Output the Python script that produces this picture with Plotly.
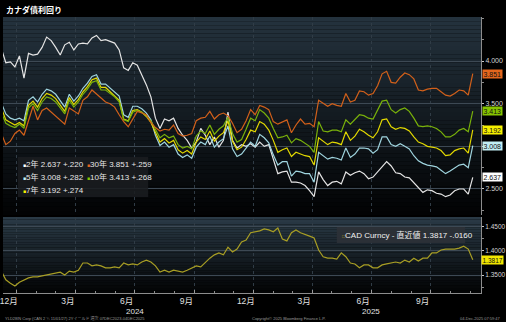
import plotly.graph_objects as go
import pandas as pd

# ---- data (weekly closes) ----
week_end = pd.date_range("2023-12-08", periods=105, freq="7D")

yld_2y = [
    4.15, 3.98, 3.99, 3.93, 4.06, 3.80, 4.09, 4.07, 4.08, 4.16,
    4.28, 4.24, 4.16, 4.07, 4.19, 4.22, 4.13, 4.20, 4.21, 4.20,
    4.27, 4.30, 4.24, 4.25, 4.23, 4.21, 4.13, 3.92, 3.89, 3.98,
    3.95, 3.84, 3.72, 3.58, 3.33, 3.21, 3.32, 3.30, 3.33, 3.21,
    3.13, 3.07, 2.98, 3.05, 3.21, 3.13, 3.02, 3.11, 2.99, 3.07,
    3.40, 3.07, 2.98, 3.02, 3.00, 3.03, 2.99, 3.05, 3.00, 3.02,
    2.84, 2.68, 2.70, 2.71, 2.58, 2.58, 2.57, 2.54, 2.48, 2.41,
    2.70, 2.61, 2.54, 2.58, 2.59, 2.56, 2.70, 2.66, 2.69, 2.71,
    2.68, 2.62, 2.64, 2.70, 2.77, 2.82, 2.77, 2.69, 2.68, 2.64,
    2.63, 2.57, 2.52, 2.46, 2.49, 2.48, 2.45, 2.44, 2.41, 2.43,
    2.48, 2.50, 2.50, 2.44, 2.637,
]
yld_5y = [
    3.51, 3.38, 3.33, 3.31, 3.33, 3.30, 3.54, 3.58, 3.52, 3.61,
    3.67, 3.65, 3.61, 3.54, 3.46, 3.61, 3.53, 3.59, 3.68, 3.74,
    3.82, 3.84, 3.73, 3.73, 3.68, 3.64, 3.59, 3.37, 3.34, 3.47,
    3.47, 3.44, 3.39, 3.31, 3.13, 3.01, 3.05, 2.99, 3.02, 2.91,
    2.87, 2.90, 2.86, 2.99, 3.05, 3.02, 3.12, 2.99, 3.05, 3.09,
    3.24, 2.97, 2.88, 2.91, 2.98, 3.05, 3.00, 3.14, 3.10, 3.04,
    2.90, 2.78, 2.82, 2.82, 2.65, 2.71, 2.70, 2.68, 2.68, 2.58,
    2.93, 2.89, 2.85, 2.87, 2.86, 2.84, 2.98, 2.87, 2.91, 2.98,
    2.98, 2.97, 2.92, 2.96, 3.11, 3.11, 3.02, 3.00, 3.03, 3.00,
    2.97, 2.89, 2.83, 2.80, 2.78, 2.77, 2.76, 2.72, 2.68, 2.71,
    2.75, 2.78, 2.79, 2.75, 3.008,
]
yld_7y = [
    3.45, 3.31, 3.28, 3.25, 3.28, 3.24, 3.48, 3.53, 3.46, 3.56,
    3.62, 3.60, 3.56, 3.49, 3.41, 3.57, 3.49, 3.55, 3.64, 3.70,
    3.78, 3.80, 3.69, 3.69, 3.64, 3.60, 3.54, 3.32, 3.30, 3.42,
    3.43, 3.40, 3.35, 3.28, 3.16, 3.05, 3.09, 3.04, 3.07, 2.96,
    2.92, 2.95, 2.91, 3.05, 3.11, 3.08, 3.18, 3.06, 3.12, 3.16,
    3.30, 3.06, 2.96, 2.99, 3.08, 3.19, 3.17, 3.29, 3.26, 3.19,
    3.07, 2.93, 2.96, 2.98, 2.88, 2.93, 2.91, 2.89, 2.88, 2.78,
    3.10, 3.06, 3.02, 3.05, 3.04, 3.02, 3.17, 3.07, 3.12, 3.20,
    3.17, 3.13, 3.10, 3.17, 3.31, 3.32, 3.23, 3.20, 3.22, 3.21,
    3.18, 3.11, 3.05, 3.03, 3.00, 2.99, 2.98, 2.95, 2.89, 2.90,
    2.95, 2.97, 2.98, 2.92, 3.192,
]
yld_10y = [
    3.40, 3.27, 3.24, 3.22, 3.26, 3.21, 3.45, 3.50, 3.42, 3.52,
    3.58, 3.56, 3.52, 3.45, 3.38, 3.54, 3.46, 3.52, 3.61, 3.67,
    3.75, 3.77, 3.66, 3.66, 3.62, 3.58, 3.52, 3.31, 3.29, 3.40,
    3.42, 3.40, 3.36, 3.30, 3.20, 3.10, 3.14, 3.10, 3.12, 3.02,
    2.98, 3.00, 2.97, 3.12, 3.18, 3.15, 3.25, 3.14, 3.20, 3.24,
    3.34, 3.15, 3.05, 3.08, 3.20, 3.33, 3.30, 3.43, 3.39, 3.33,
    3.21, 3.10, 3.11, 3.13, 3.04, 3.09, 3.07, 3.03, 3.00, 2.93,
    3.29, 3.18, 3.17, 3.19, 3.19, 3.17, 3.31, 3.26, 3.31, 3.37,
    3.36, 3.33, 3.32, 3.43, 3.53, 3.54, 3.43, 3.39, 3.43, 3.45,
    3.41, 3.33, 3.24, 3.23, 3.24, 3.23, 3.21, 3.17, 3.11, 3.11,
    3.14, 3.19, 3.21, 3.17, 3.413,
]
yld_30y = [
    3.15, 3.02, 3.06, 3.15, 3.19, 3.13, 3.30, 3.47, 3.31, 3.42,
    3.45, 3.40, 3.35, 3.30, 3.26, 3.45, 3.41, 3.38, 3.54, 3.58,
    3.66, 3.61, 3.56, 3.52, 3.50, 3.46, 3.37, 3.29, 3.23, 3.32,
    3.41, 3.39, 3.37, 3.28, 3.22, 3.18, 3.20, 3.19, 3.25, 3.15,
    3.12, 3.13, 3.15, 3.30, 3.33, 3.34, 3.41, 3.32, 3.37, 3.39,
    3.36, 3.27, 3.16, 3.20, 3.30, 3.43, 3.37, 3.48, 3.46, 3.43,
    3.29, 3.26, 3.29, 3.31, 3.16, 3.25, 3.32, 3.26, 3.27, 3.23,
    3.54, 3.50, 3.47, 3.50, 3.48, 3.47, 3.62, 3.52, 3.54, 3.65,
    3.64, 3.60, 3.62, 3.71, 3.85, 3.88, 3.75, 3.74, 3.81, 3.86,
    3.84, 3.79, 3.66, 3.65, 3.67, 3.68, 3.68, 3.64, 3.60, 3.59,
    3.62, 3.66, 3.65, 3.60, 3.851,
]
usdcad = [
    1.358, 1.340, 1.333, 1.327, 1.335, 1.340, 1.344, 1.346, 1.346, 1.348,
    1.350, 1.352, 1.354, 1.356, 1.350, 1.358, 1.356, 1.360, 1.375, 1.375,
    1.369, 1.371, 1.369, 1.365, 1.365, 1.367, 1.365, 1.375, 1.371, 1.373,
    1.371, 1.377, 1.381, 1.377, 1.369, 1.356, 1.360, 1.356, 1.360, 1.358,
    1.356, 1.360, 1.365, 1.369, 1.367, 1.377, 1.385, 1.392, 1.396, 1.392,
    1.408, 1.398, 1.404, 1.419, 1.423, 1.438, 1.440, 1.442, 1.446, 1.444,
    1.440, 1.448, 1.425, 1.421, 1.438, 1.444, 1.438, 1.435, 1.431, 1.427,
    1.402, 1.388, 1.385, 1.385, 1.383, 1.396, 1.388, 1.375, 1.373, 1.365,
    1.371, 1.371, 1.365, 1.365, 1.371, 1.373, 1.375, 1.377, 1.375, 1.381,
    1.377, 1.385, 1.379, 1.385, 1.385, 1.396, 1.396, 1.402, 1.404, 1.404,
    1.404, 1.406, 1.410, 1.404, 1.3817,
]

tenor_labels = ["2年", "5年", "7年", "10年", "30年"]
tenor_values = [yld_2y, yld_5y, yld_7y, yld_10y, yld_30y]
tenor_change = ["+.220", "+.282", "+.274", "+.268", "+.259"]
cad_change = "-.0160"

month_ticks = ["2024-01-01", "2024-04-01", "2024-07-01", "2024-10-01",
               "2025-01-01", "2025-04-01", "2025-07-01", "2025-10-01"]
month_text = ["12月", "3月", "6月", "9月", "12月", "3月", "6月", "9月"]
year_marks = ["2024-07-01", "2025-07-01"]
year_text = ["2024", "2025"]

yld_ticks = [2.5, 3.0, 3.5, 4.0]
yld_tick_text = ["2.500", "", "3.500", "4.000"]   # 3.000 sits under the 5年 tag
cad_ticks = [1.35, 1.40, 1.45]

# ---- styling ----
line_col = {"2年": "#e4e4e4", "5年": "#9fd4de", "7年": "#e2d800",
            "10年": "#79b10a", "30年": "#d2601a"}
tag_col = {"2年": "#ffffff", "5年": "#c2eef4", "7年": "#f7f000",
           "10年": "#86c400", "30年": "#e3661d"}
cad_line = "#a89e24"
cad_tag = "#f2e600"

SANS = "Liberation Sans, Arial, Noto Sans CJK JP, sans-serif"
CJK = "Noto Sans CJK JP, sans-serif"

W, H = 506, 322
ML, MR, MT, MB = 0, 22, 17, 29
PW, PH = W - ML - MR, H - MT - MB


def pyp(p):
    """pixel row -> paper y"""
    return (H - MB - p) / PH


def pxp(p):
    """pixel column -> paper x"""
    return (p - ML) / PW


x_range = ["2023-12-10 15:00", "2025-12-17 17:00"]

fig = go.Figure()

for name, vals in zip(tenor_labels, tenor_values):
    fig.add_trace(go.Scatter(
        x=week_end, y=vals, mode="lines", name=name,
        line=dict(color=line_col[name], width=1.2),
        xaxis="x", yaxis="y", hoverinfo="skip", showlegend=False,
    ))

fig.add_trace(go.Scatter(
    x=week_end, y=usdcad, mode="lines", name="CAD Curncy",
    line=dict(color=cad_line, width=1.2),
    xaxis="x2", yaxis="y2", hoverinfo="skip", showlegend=False,
))

shapes = []


def gradient(xref, yref, top, bottom, n=48):
    for k in range(n):
        t = k / (n - 1)
        c = tuple(round(top[j] + (bottom[j] - top[j]) * t) for j in range(3))
        shapes.append(dict(
            type="rect", xref=xref, yref=yref,
            x0=0, x1=1, y0=1 - (k + 1) / n, y1=1 - k / n,
            fillcolor="rgb(%d,%d,%d)" % c, line=dict(width=0), layer="below",
        ))


gradient("x domain", "y domain", (36, 50, 61), (2, 3, 4))
gradient("x2 domain", "y2 domain", (42, 58, 70), (3, 4, 5), n=30)

# legend panel and CAD caption panel
shapes.append(dict(type="rect", xref="paper", yref="paper",
                   x0=pxp(15), x1=pxp(147), y0=pyp(197), y1=pyp(157),
                   fillcolor="rgba(26,29,32,0.88)", line=dict(width=0), layer="above"))
shapes.append(dict(type="rect", xref="paper", yref="paper",
                   x0=pxp(338), x1=pxp(468), y0=pyp(243), y1=pyp(227),
                   fillcolor="rgba(44,49,55,0.92)", line=dict(width=0), layer="above"))

annotations = []

# title
annotations.append(dict(
    text="<b>カナダ債利回り</b>", x=pxp(1), y=pyp(9), xref="paper", yref="paper",
    xanchor="left", yanchor="middle", showarrow=False,
    font=dict(family=CJK, size=8, color="#ffffff"),
))

# legend entries
legend_pos = {"2年": (18, 164), "30年": (83, 164), "5年": (18, 177),
              "10年": (83, 177), "7年": (18, 190)}
for name, vals, chg in zip(tenor_labels, tenor_values, tenor_change):
    lx, ly = legend_pos[name]
    annotations.append(dict(
        text="<span style='color:%s;font-size:5px'>■</span>%s %.3f %s"
             % (tag_col[name], name, vals[-1], chg),
        x=pxp(lx), y=pyp(ly), xref="paper", yref="paper",
        xanchor="left", yanchor="middle", showarrow=False,
        font=dict(family=SANS, size=8, color="#e6e6e6"),
    ))

# last-value tags on the right axis
for name, vals in zip(tenor_labels, tenor_values):
    annotations.append(dict(
        text="%.3f" % vals[-1], x=1, y=vals[-1], xref="paper", yref="y",
        xanchor="left", yanchor="middle", xshift=1, showarrow=False,
        bgcolor=tag_col[name], borderpad=0.5,
        font=dict(family=SANS, size=7, color="#111111"),
    ))
annotations.append(dict(
    text="%.4f" % usdcad[-1], x=1, y=usdcad[-1], xref="paper", yref="y2",
    xanchor="left", yanchor="middle", xshift=0, showarrow=False,
    bgcolor=cad_tag, borderpad=0.5,
    font=dict(family=SANS, size=6.5, color="#111111"),
))

# CAD caption
annotations.append(dict(
    text="<span style='color:%s;font-size:5px'>□</span>CAD Curncy - 直近値 %.4f %s"
         % (cad_line, usdcad[-1], cad_change),
    x=pxp(341), y=pyp(235), xref="paper", yref="paper",
    xanchor="left", yanchor="middle", showarrow=False,
    font=dict(family=SANS, size=8, color="#f0f0f0"),
))

# year labels under the month ticks
for d, t in zip(year_marks, year_text):
    annotations.append(dict(
        text=t, x=d, y=pyp(311), xref="x2", yref="paper",
        xanchor="center", yanchor="middle", showarrow=False,
        font=dict(family=SANS, size=8, color="#e0e0e0"),
    ))

# footer
annotations.append(dict(
    text="YLD28IN Corp (CAN 2 ¾ 11/01/27) 2Yイールド 週次 07DEC2023-04DEC2025",
    x=pxp(0), y=pyp(318), xref="paper", yref="paper", xanchor="left",
    yanchor="middle", showarrow=False, font=dict(family=SANS, size=4, color="#9a9a9a"),
))
annotations.append(dict(
    text="Copyright© 2025 Bloomberg Finance L.P.",
    x=pxp(290), y=pyp(318), xref="paper", yref="paper", xanchor="center",
    yanchor="middle", showarrow=False, font=dict(family=SANS, size=4, color="#9a9a9a"),
))
annotations.append(dict(
    text="04-Dec-2025 07:59:47",
    x=pxp(506), y=pyp(318), xref="paper", yref="paper", xanchor="right",
    yanchor="middle", showarrow=False, font=dict(family=SANS, size=4, color="#9a9a9a"),
))

grid_v = dict(showgrid=True, gridcolor="#303c46", griddash="dot", gridwidth=1)

fig.update_layout(
    width=W, height=H,
    margin=dict(l=ML, r=MR, t=MT, b=MB),
    paper_bgcolor="#000000", plot_bgcolor="rgba(0,0,0,0)",
    shapes=shapes, annotations=annotations,
    xaxis=dict(
        type="date", range=x_range, anchor="y",
        tickmode="array", tickvals=month_ticks, ticktext=month_text,
        showticklabels=False, ticks="", zeroline=False, showline=False,
        **grid_v,
    ),
    xaxis2=dict(
        type="date", range=x_range, anchor="y2", matches="x",
        tickmode="array", tickvals=month_ticks, ticktext=month_text,
        ticks="inside", ticklen=3, tickcolor="#9a9a9a",
        ticklabelshift=-8, ticklabelstandoff=0, ticklabeloverflow="allow",
        tickfont=dict(family=SANS, size=8.5, color="#e0e0e0"),
        showline=True, linecolor="#8c8c8c", linewidth=1, zeroline=False,
        minor=dict(tickmode="linear", tick0="2024-01-01", dtick="M1",
                   ticks="inside", ticklen=2, tickcolor="#8c8c8c", showgrid=False),
        **grid_v,
    ),
    yaxis=dict(
        domain=[pyp(215), 1], range=[2.195, 4.516], side="right", anchor="x",
        tickmode="array", tickvals=yld_ticks, ticktext=yld_tick_text,
        tickfont=dict(family=SANS, size=7, color="#d4d4d4"),
        ticks="outside", ticklen=2, tickcolor="#c8c8c8",
        showline=True, linecolor="#8c8c8c", linewidth=1,
        showgrid=True, gridcolor="#3d4954", gridwidth=1, zeroline=False,
        minor=dict(tickmode="linear", tick0=2.25, dtick=0.25,
                   ticks="outside", ticklen=2, tickcolor="#8c8c8c", showgrid=False),
    ),
    yaxis2=dict(
        domain=[0, pyp(217)], range=[1.3125, 1.4708], side="right", anchor="x2",
        tickmode="array", tickvals=cad_ticks,
        ticktext=["%.4f" % v for v in cad_ticks],
        tickfont=dict(family=SANS, size=6.5, color="#d4d4d4"),
        ticks="outside", ticklen=2, tickcolor="#c8c8c8",
        showline=True, linecolor="#8c8c8c", linewidth=1,
        showgrid=True, gridcolor="#3d4954", gridwidth=1, zeroline=False,
        minor=dict(tickmode="linear", tick0=1.325, dtick=0.025,
                   ticks="outside", ticklen=2, tickcolor="#8c8c8c", showgrid=False),
    ),
)

fig.write_html("out.html")
